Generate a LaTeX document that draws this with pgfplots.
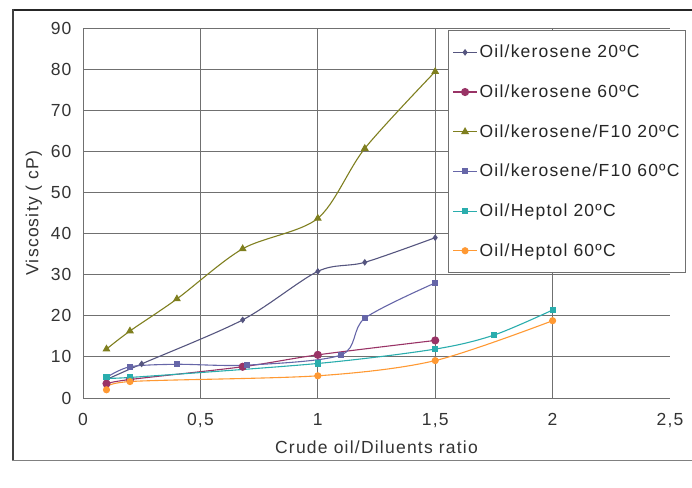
\documentclass[border=0pt]{standalone}
\usepackage{fontspec}
\setmainfont{Liberation Sans}
\usepackage{pgfplots}
\pgfplotsset{compat=1.18}
\definecolor{cA}{HTML}{55557F}
\definecolor{cB}{HTML}{993366}
\definecolor{cC}{HTML}{7F7F1F}
\definecolor{cD}{HTML}{6666A8}
\definecolor{cE}{HTML}{2AADAD}
\definecolor{cF}{HTML}{FF9933}
\definecolor{gridc}{HTML}{707070}
\newcommand{\chfont}{\fontsize{17.5}{20}\selectfont\addfontfeature{LetterSpace=7}}
\begin{document}
\begin{tikzpicture}[x=1pt,y=1pt]
\path[use as bounding box] (0,0) rectangle (692,487);
\draw[line width=2.5pt, black!85] (12,477) -- (694,477);
\draw[line width=2pt, black!75] (13,478) -- (13,26);
\draw[line width=1pt, gray] (12,27) -- (694,27);
\begin{axis}[
  at={(83pt,89pt)}, anchor=south west,
  width=587pt, height=370pt, scale only axis,
  xmin=0, xmax=2.5, ymin=0, ymax=90,
  xtick={0,0.5,1,1.5,2}, extra x ticks={2.5}, extra x tick style={grid=none},
  ytick={0,10,...,90},
  axis x line*=bottom, axis y line*=left,
  axis line style={gridc, line width=0.8pt},
  grid=major, major grid style={gridc, line width=0.8pt},
  tick style={draw=none},
  /pgf/number format/use comma,
  /pgf/number format/assume math mode=true,
  ticklabel style={font=\chfont, text=black!80},
  xticklabel style={yshift=-12pt},
  yticklabel style={xshift=-8pt},
  xlabel={Crude oil/Diluents ratio},
  ylabel={Viscosity ( cP)},
  label style={font=\chfont, text=black!80},
  xlabel style={yshift=-6pt},
  ylabel style={yshift=2pt},
  legend cell align=left,
  legend style={at={(0.622,0.995)}, anchor=north west, draw=gridc, line width=0.8pt,
    fill=white, font=\chfont, text=black!85,
    row sep=21.5pt, inner xsep=4pt, inner ysep=13pt},
  legend image code/.code={\draw[mark repeat=2,mark phase=2,#1] plot coordinates {(0pt,0pt) (12pt,0pt) (24pt,0pt)};},
  every axis plot/.append style={line width=1.1pt, smooth, tension=0.5},
]
\addplot[cA, mark=diamond*, mark size=2.5pt] coordinates {(0.1,4.5) (0.25,8.3) (0.68,19) (1.0,30.8) (1.2,33) (1.5,39)};
\addlegendentry{Oil/kerosene 20ºC}
\addplot[cB, mark=*, mark size=3.5pt] coordinates {(0.1,3.5) (0.2,4.5) (0.68,7.6) (1.0,10.5) (1.5,14)};
\addlegendentry{Oil/kerosene 60ºC}
\addplot[cC, mark=triangle*, mark size=3.5pt] coordinates {(0.1,11.9) (0.2,16.3) (0.4,24.1) (0.68,36.3) (1.0,43.7) (1.2,60.7) (1.5,79.4)};
\addlegendentry{Oil/kerosene/F10 20ºC}
\addplot[cD, mark=square*, mark size=2.5pt] coordinates {(0.1,5) (0.2,7.6) (0.4,8.2) (0.7,8) (1.1,10.5) (1.2,19.4) (1.5,28)};
\addlegendentry{Oil/kerosene/F10 60ºC}
\addplot[cE, mark=square*, mark size=2.5pt] coordinates {(0.1,5) (0.2,5) (1.0,8.4) (1.5,11.9) (1.75,15.3) (2.0,21.4)};
\addlegendentry{Oil/Heptol 20ºC}
\addplot[cF, mark=*, mark size=3pt] coordinates {(0.1,2) (0.2,4) (1.0,5.4) (1.5,9.1) (2.0,18.8)};
\addlegendentry{Oil/Heptol 60ºC}
\end{axis}
\end{tikzpicture}
\end{document}
